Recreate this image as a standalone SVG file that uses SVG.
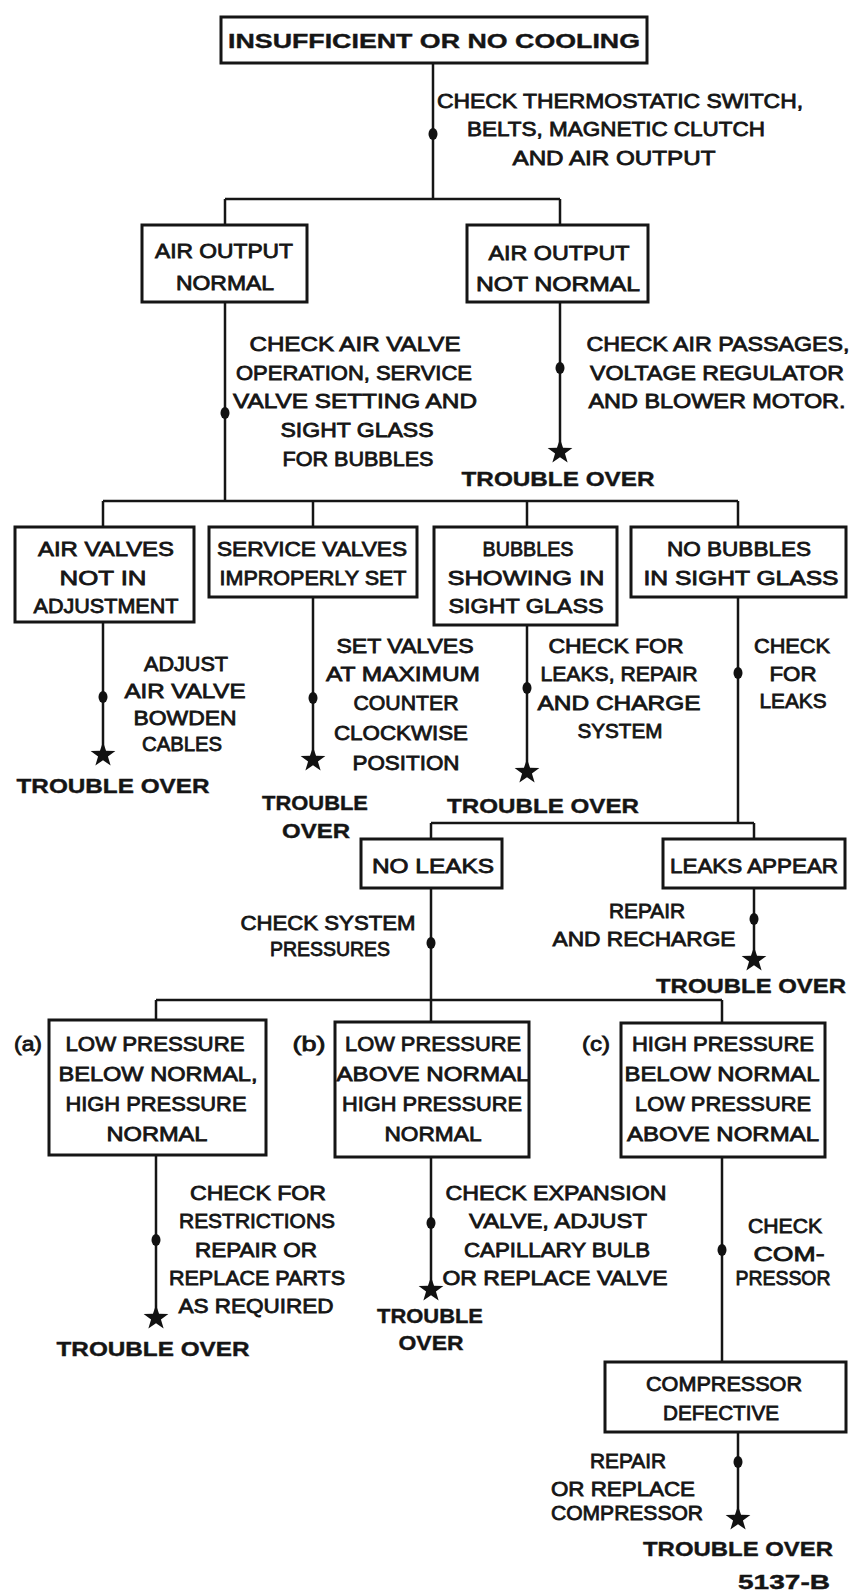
<svg xmlns="http://www.w3.org/2000/svg" width="851" height="1591" viewBox="0 0 851 1591">
<style>
.box{fill:#fff;stroke:#151515;stroke-width:3}
.ln{stroke:#151515;stroke-width:2.5;fill:none}
.t{font-family:"Liberation Sans",Arial,sans-serif;font-size:20.5px;fill:#151515;text-anchor:middle;stroke:#151515;stroke-width:0.8}
.b{font-weight:bold;font-size:21px;stroke-width:0.4}
</style>
<defs>
<path id="star" d="M0,-13 L3.06,-4.2 L12.36,-4.02 L4.94,1.61 L7.64,10.52 L0,5.2 L-7.64,10.52 L-4.94,1.61 L-12.36,-4.02 L-3.06,-4.2 Z" fill="#111"/>
<ellipse id="dt" cx="0" cy="0" rx="4.5" ry="6" fill="#111"/>
</defs>
<rect width="851" height="1591" fill="#fff"/>

<g id="connectors">
<path class="ln" d="M433,63 V199 M225,199 H560 M225,199 V225 M560,199 V225"/>
<path class="ln" d="M225,302 V501 M103,501 H738 M103,501 V527 M313,501 V527 M527,501 V527 M738,501 V527"/>
<path class="ln" d="M560,302 V452"/>
<path class="ln" d="M103,622 V755 M313,597 V760 M527,625 V772 M738,597 V823"/>
<path class="ln" d="M431,823 H754 M431,823 V839 M754,823 V839"/>
<path class="ln" d="M431,888 V1022 M156,1000 H722 M156,1000 V1020 M722,1000 V1023"/>
<path class="ln" d="M754,888 V960"/>
<path class="ln" d="M156,1155 V1318 M431,1157 V1290 M722,1157 V1362 M738,1432 V1519"/>
<use href="#dt" x="433" y="134"/>
<use href="#dt" x="225" y="413"/>
<use href="#dt" x="560" y="368"/>
<use href="#dt" x="103" y="697"/>
<use href="#dt" x="313" y="698"/>
<use href="#dt" x="527" y="688"/>
<use href="#dt" x="738" y="673"/>
<use href="#dt" x="431" y="943"/>
<use href="#dt" x="754" y="919"/>
<use href="#dt" x="156" y="1240"/>
<use href="#dt" x="431" y="1223"/>
<use href="#dt" x="722" y="1250"/>
<use href="#dt" x="738" y="1462"/>
<use href="#star" x="560" y="452"/>
<use href="#star" x="103" y="755"/>
<use href="#star" x="313" y="760"/>
<use href="#star" x="527" y="772"/>
<use href="#star" x="754" y="960"/>
<use href="#star" x="156" y="1318"/>
<use href="#star" x="431" y="1290"/>
<use href="#star" x="738" y="1519"/>
</g>

<g id="labels">
<text class="t" x="620" y="108" textLength="366" lengthAdjust="spacingAndGlyphs">CHECK THERMOSTATIC SWITCH,</text>
<text class="t" x="616" y="136" textLength="298" lengthAdjust="spacingAndGlyphs">BELTS, MAGNETIC CLUTCH</text>
<text class="t" x="614" y="165" textLength="203" lengthAdjust="spacingAndGlyphs">AND AIR OUTPUT</text>

<text class="t" x="355" y="351" textLength="211" lengthAdjust="spacingAndGlyphs">CHECK AIR VALVE</text>
<text class="t" x="354" y="380" textLength="236" lengthAdjust="spacingAndGlyphs">OPERATION, SERVICE</text>
<text class="t" x="355" y="408" textLength="244" lengthAdjust="spacingAndGlyphs">VALVE SETTING AND</text>
<text class="t" x="357" y="437" textLength="153" lengthAdjust="spacingAndGlyphs">SIGHT GLASS</text>
<text class="t" x="358" y="466" textLength="151" lengthAdjust="spacingAndGlyphs">FOR BUBBLES</text>

<text class="t" x="718" y="351" textLength="263" lengthAdjust="spacingAndGlyphs">CHECK AIR PASSAGES,</text>
<text class="t" x="717" y="380" textLength="254" lengthAdjust="spacingAndGlyphs">VOLTAGE REGULATOR</text>
<text class="t" x="717" y="408" textLength="257" lengthAdjust="spacingAndGlyphs">AND BLOWER MOTOR.</text>
<text class="t b" x="558" y="486" textLength="193" lengthAdjust="spacingAndGlyphs">TROUBLE OVER</text>

<text class="t" x="186" y="671" textLength="84" lengthAdjust="spacingAndGlyphs">ADJUST</text>
<text class="t" x="185" y="698" textLength="121" lengthAdjust="spacingAndGlyphs">AIR VALVE</text>
<text class="t" x="185" y="725" textLength="103" lengthAdjust="spacingAndGlyphs">BOWDEN</text>
<text class="t" x="182" y="751" textLength="80" lengthAdjust="spacingAndGlyphs">CABLES</text>
<text class="t b" x="113" y="793" textLength="193" lengthAdjust="spacingAndGlyphs">TROUBLE OVER</text>

<text class="t" x="405" y="653" textLength="137" lengthAdjust="spacingAndGlyphs">SET VALVES</text>
<text class="t" x="403" y="681" textLength="154" lengthAdjust="spacingAndGlyphs">AT MAXIMUM</text>
<text class="t" x="406" y="710" textLength="105" lengthAdjust="spacingAndGlyphs">COUNTER</text>
<text class="t" x="401" y="740" textLength="134" lengthAdjust="spacingAndGlyphs">CLOCKWISE</text>
<text class="t" x="406" y="770" textLength="107" lengthAdjust="spacingAndGlyphs">POSITION</text>
<text class="t b" x="315" y="810" textLength="106" lengthAdjust="spacingAndGlyphs">TROUBLE</text>
<text class="t b" x="316" y="838" textLength="68" lengthAdjust="spacingAndGlyphs">OVER</text>

<text class="t" x="616" y="653" textLength="135" lengthAdjust="spacingAndGlyphs">CHECK FOR</text>
<text class="t" x="619" y="681" textLength="157" lengthAdjust="spacingAndGlyphs">LEAKS, REPAIR</text>
<text class="t" x="619" y="710" textLength="163" lengthAdjust="spacingAndGlyphs">AND CHARGE</text>
<text class="t" x="620" y="738" textLength="85" lengthAdjust="spacingAndGlyphs">SYSTEM</text>
<text class="t b" x="543" y="813" textLength="192" lengthAdjust="spacingAndGlyphs">TROUBLE OVER</text>

<text class="t" x="792" y="653" textLength="76" lengthAdjust="spacingAndGlyphs">CHECK</text>
<text class="t" x="793" y="681" textLength="47" lengthAdjust="spacingAndGlyphs">FOR</text>
<text class="t" x="793" y="708" textLength="67" lengthAdjust="spacingAndGlyphs">LEAKS</text>

<text class="t" x="328" y="930" textLength="175" lengthAdjust="spacingAndGlyphs">CHECK SYSTEM</text>
<text class="t" x="330" y="956" textLength="120" lengthAdjust="spacingAndGlyphs">PRESSURES</text>

<text class="t" x="647" y="918" textLength="76" lengthAdjust="spacingAndGlyphs">REPAIR</text>
<text class="t" x="644" y="946" textLength="183" lengthAdjust="spacingAndGlyphs">AND RECHARGE</text>
<text class="t b" x="751" y="993" textLength="190" lengthAdjust="spacingAndGlyphs">TROUBLE OVER</text>

<text class="t" x="258" y="1200" textLength="136" lengthAdjust="spacingAndGlyphs">CHECK FOR</text>
<text class="t" x="257" y="1228" textLength="156" lengthAdjust="spacingAndGlyphs">RESTRICTIONS</text>
<text class="t" x="256" y="1257" textLength="122" lengthAdjust="spacingAndGlyphs">REPAIR OR</text>
<text class="t" x="257" y="1285" textLength="176" lengthAdjust="spacingAndGlyphs">REPLACE PARTS</text>
<text class="t" x="256" y="1313" textLength="155" lengthAdjust="spacingAndGlyphs">AS REQUIRED</text>
<text class="t b" x="153" y="1356" textLength="193" lengthAdjust="spacingAndGlyphs">TROUBLE OVER</text>

<text class="t" x="556" y="1200" textLength="221" lengthAdjust="spacingAndGlyphs">CHECK EXPANSION</text>
<text class="t" x="558" y="1228" textLength="178" lengthAdjust="spacingAndGlyphs">VALVE, ADJUST</text>
<text class="t" x="557" y="1257" textLength="186" lengthAdjust="spacingAndGlyphs">CAPILLARY BULB</text>
<text class="t" x="555" y="1285" textLength="225" lengthAdjust="spacingAndGlyphs">OR REPLACE VALVE</text>
<text class="t b" x="430" y="1323" textLength="106" lengthAdjust="spacingAndGlyphs">TROUBLE</text>
<text class="t b" x="431" y="1350" textLength="65" lengthAdjust="spacingAndGlyphs">OVER</text>

<text class="t" x="785" y="1233" textLength="74" lengthAdjust="spacingAndGlyphs">CHECK</text>
<text class="t" x="789" y="1261" textLength="71" lengthAdjust="spacingAndGlyphs">COM-</text>
<text class="t" x="783" y="1285" textLength="95" lengthAdjust="spacingAndGlyphs">PRESSOR</text>

<text class="t" x="628" y="1468" textLength="76" lengthAdjust="spacingAndGlyphs">REPAIR</text>
<text class="t" x="623" y="1496" textLength="144" lengthAdjust="spacingAndGlyphs">OR REPLACE</text>
<text class="t" x="627" y="1520" textLength="152" lengthAdjust="spacingAndGlyphs">COMPRESSOR</text>
<text class="t b" x="738" y="1556" textLength="190" lengthAdjust="spacingAndGlyphs">TROUBLE OVER</text>
<text class="t b" x="784" y="1589" textLength="92" lengthAdjust="spacingAndGlyphs">5137-B</text>
</g>

<g id="n-start">
<rect class="box" x="221" y="17" width="426" height="46"/>
<text class="t b" x="434" y="48" font-size="25" textLength="412" lengthAdjust="spacingAndGlyphs">INSUFFICIENT OR NO COOLING</text>
</g>
<g id="n-air-normal">
<rect class="box" x="142" y="225" width="165" height="77"/>
<text class="t" x="224" y="258" textLength="138" lengthAdjust="spacingAndGlyphs">AIR OUTPUT</text>
<text class="t" x="225" y="290" textLength="98" lengthAdjust="spacingAndGlyphs">NORMAL</text>
</g>
<g id="n-air-not-normal">
<rect class="box" x="467" y="225" width="181" height="77"/>
<text class="t" x="559" y="260" textLength="141" lengthAdjust="spacingAndGlyphs">AIR OUTPUT</text>
<text class="t" x="558" y="291" textLength="164" lengthAdjust="spacingAndGlyphs">NOT NORMAL</text>
</g>
<g id="n-air-valves">
<rect class="box" x="15" y="527" width="179" height="95"/>
<text class="t" x="106" y="556" textLength="136" lengthAdjust="spacingAndGlyphs">AIR VALVES</text>
<text class="t" x="103" y="585" textLength="87" lengthAdjust="spacingAndGlyphs">NOT IN</text>
<text class="t" x="106" y="613" textLength="145" lengthAdjust="spacingAndGlyphs">ADJUSTMENT</text>
</g>
<g id="n-service-valves">
<rect class="box" x="209" y="527" width="208" height="70"/>
<text class="t" x="312" y="556" textLength="190" lengthAdjust="spacingAndGlyphs">SERVICE VALVES</text>
<text class="t" x="313" y="585" textLength="187" lengthAdjust="spacingAndGlyphs">IMPROPERLY SET</text>
</g>
<g id="n-bubbles">
<rect class="box" x="434" y="527" width="183" height="98"/>
<text class="t" x="528" y="556" textLength="91" lengthAdjust="spacingAndGlyphs">BUBBLES</text>
<text class="t" x="526" y="585" textLength="157" lengthAdjust="spacingAndGlyphs">SHOWING IN</text>
<text class="t" x="526" y="613" textLength="155" lengthAdjust="spacingAndGlyphs">SIGHT GLASS</text>
</g>
<g id="n-no-bubbles">
<rect class="box" x="631" y="527" width="215" height="70"/>
<text class="t" x="739" y="556" textLength="144" lengthAdjust="spacingAndGlyphs">NO BUBBLES</text>
<text class="t" x="741" y="585" textLength="195" lengthAdjust="spacingAndGlyphs">IN SIGHT GLASS</text>
</g>
<g id="n-no-leaks">
<rect class="box" x="361" y="839" width="141" height="49"/>
<text class="t" x="433" y="873" textLength="122" lengthAdjust="spacingAndGlyphs">NO LEAKS</text>
</g>
<g id="n-leaks-appear">
<rect class="box" x="663" y="839" width="182" height="49"/>
<text class="t" x="754" y="873" textLength="168" lengthAdjust="spacingAndGlyphs">LEAKS APPEAR</text>
</g>
<g id="n-a">
<rect class="box" x="49" y="1020" width="217" height="135"/>
<text class="t" x="28" y="1051" textLength="28" lengthAdjust="spacingAndGlyphs">(a)</text>
<text class="t" x="155" y="1051" textLength="179" lengthAdjust="spacingAndGlyphs">LOW PRESSURE</text>
<text class="t" x="158" y="1081" textLength="199" lengthAdjust="spacingAndGlyphs">BELOW NORMAL,</text>
<text class="t" x="156" y="1111" textLength="181" lengthAdjust="spacingAndGlyphs">HIGH PRESSURE</text>
<text class="t" x="157" y="1141" textLength="101" lengthAdjust="spacingAndGlyphs">NORMAL</text>
</g>
<g id="n-b">
<rect class="box" x="335" y="1022" width="194" height="135"/>
<text class="t" x="309" y="1051" textLength="33" lengthAdjust="spacingAndGlyphs">(b)</text>
<text class="t" x="433" y="1051" textLength="176" lengthAdjust="spacingAndGlyphs">LOW PRESSURE</text>
<text class="t" x="433" y="1081" textLength="193" lengthAdjust="spacingAndGlyphs">ABOVE NORMAL</text>
<text class="t" x="432" y="1111" textLength="180" lengthAdjust="spacingAndGlyphs">HIGH PRESSURE</text>
<text class="t" x="433" y="1141" textLength="97" lengthAdjust="spacingAndGlyphs">NORMAL</text>
</g>
<g id="n-c">
<rect class="box" x="621" y="1023" width="204" height="134"/>
<text class="t" x="596" y="1051" textLength="28" lengthAdjust="spacingAndGlyphs">(c)</text>
<text class="t" x="723" y="1051" textLength="182" lengthAdjust="spacingAndGlyphs">HIGH PRESSURE</text>
<text class="t" x="722" y="1081" textLength="195" lengthAdjust="spacingAndGlyphs">BELOW NORMAL</text>
<text class="t" x="723" y="1111" textLength="176" lengthAdjust="spacingAndGlyphs">LOW PRESSURE</text>
<text class="t" x="723" y="1141" textLength="192" lengthAdjust="spacingAndGlyphs">ABOVE NORMAL</text>
</g>
<g id="n-compressor">
<rect class="box" x="605" y="1362" width="241" height="70"/>
<text class="t" x="724" y="1391" textLength="156" lengthAdjust="spacingAndGlyphs">COMPRESSOR</text>
<text class="t" x="721" y="1420" textLength="116" lengthAdjust="spacingAndGlyphs">DEFECTIVE</text>
</g>
</svg>
